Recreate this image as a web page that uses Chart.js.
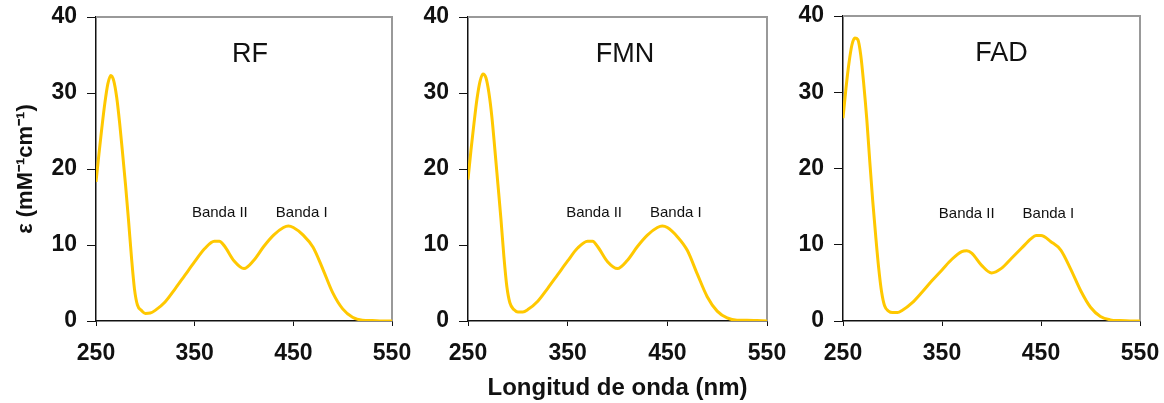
<!DOCTYPE html>
<html>
<head>
<meta charset="utf-8">
<script src="https://cdn.jsdelivr.net/npm/chart.js@4.4.1/dist/chart.umd.min.js"></script>
<style>
  body { margin: 0; background: #fff; }
  #wrap { position: relative; width: 1164px; height: 403px; }
  .panel { position: absolute; top: 0; }
</style>
</head>
<body>
<div id="wrap">
  <canvas id="c-rf" class="panel" width="420" height="403" style="left:0px"></canvas>
  <canvas id="c-fmn" class="panel" width="375" height="403" style="left:420px"></canvas>
  <canvas id="c-fad" class="panel" width="369" height="403" style="left:795px"></canvas>
</div>
<script>
// wavelength grid (nm) shared by the three spectra
var wavelengths = [250, 253, 256, 259, 262, 265, 268, 271, 274, 277, 280, 283, 286, 289, 292, 296,
    300, 305, 310, 320, 330, 340, 350, 360, 370, 375, 380, 390, 400, 410, 420, 430, 440, 445,
    450, 460, 470, 480, 490, 500, 510, 520, 530, 540, 550];

// molar absorptivity, mM-1 cm-1
var rfValues = [18.3, 22, 25.5, 28.7, 31.2, 32.3, 31.6, 29.4, 26, 22, 17.8, 13.2, 8.3, 4.2, 2.1, 1.4,
    1.0, 1.05, 1.4, 2.5, 4.2, 6.0, 7.8, 9.5, 10.5, 10.5, 9.9, 7.9, 6.9, 8.0, 9.8, 11.3, 12.3, 12.5,
    12.3, 11.3, 9.7, 6.8, 3.7, 1.6, 0.5, 0.1, 0.05, 0, 0];
var fmnValues = [18.6, 22.5, 26, 29.2, 31.5, 32.5, 32.0, 30, 26.8, 22.5, 18, 13.5, 8.5, 4.5, 2.4, 1.5,
    1.2, 1.2, 1.5, 2.6, 4.3, 6.1, 7.9, 9.6, 10.5, 10.5, 9.8, 7.8, 6.9, 8.0, 9.8, 11.3, 12.3, 12.5,
    12.3, 11.1, 9.3, 6.2, 3.2, 1.3, 0.4, 0.1, 0.1, 0.05, 0];
var fadValues = [26.6, 30.5, 33.8, 36.2, 37.1, 36.9, 34.8, 31, 26.5, 21, 15.8, 11.2, 7, 3.8, 2.0, 1.3,
    1.1, 1.1, 1.4, 2.4, 3.8, 5.3, 6.7, 8.1, 9.1, 9.2, 8.9, 7.3, 6.3, 6.9, 8.2, 9.5, 10.8, 11.2,
    11.2, 10.4, 9.3, 6.8, 4.0, 1.8, 0.6, 0.15, 0.05, 0, 0];

var xTicks = [250, 350, 450, 550];
var yTicks = [0, 10, 20, 30, 40];

var panelNames = ["RF", "FMN", "FAD"];
var bandNames = ["Banda II", "Banda I"];
// where the text labels sit, in data units [nm, value]
var namePos = [[406, 35.1], [407.5, 35.1], [410, 35.1]];
var bandPos = [
    [[375.5, 14.2], [458.5, 14.2]],
    [[376.5, 14.2], [458.5, 14.2]],
    [[375, 14.1], [457.5, 14.1]]
];

var FONT = "'Liberation Sans', Arial, sans-serif";
var LINE = 'rgb(255, 200, 0)';

/**
 * Draws the grey top/right frame and the text labels of a panel
 */
var panelDecor = {
    id: 'panelDecor',
    beforeDatasetsDraw(chart) {
        var a = chart.chartArea;
        var ctx = chart.ctx;
        ctx.save();
        ctx.strokeStyle = '#999';
        ctx.lineWidth = 2;
        ctx.beginPath();
        ctx.moveTo(a.left, a.top);
        ctx.lineTo(a.right, a.top);
        ctx.lineTo(a.right, a.bottom);
        ctx.stroke();
        ctx.restore();
    },
    afterDatasetsDraw(chart, args, opts) {
        var ctx = chart.ctx;
        var x = chart.scales.x, y = chart.scales.y;
        ctx.save();
        ctx.fillStyle = '#111';
        ctx.textAlign = 'center';
        ctx.textBaseline = 'middle';
        ctx.font = '27px ' + FONT;
        ctx.fillText(opts.name, x.getPixelForValue(opts.namePos[0]), y.getPixelForValue(opts.namePos[1]));
        ctx.font = '15px ' + FONT;
        for (var i = 0; i < bandNames.length; i++) {
            var p = opts.bandPos[i];
            ctx.fillText(bandNames[i], x.getPixelForValue(p[0]), y.getPixelForValue(p[1]));
        }
        ctx.restore();
    }
};

/**
 * Builds one spectrum panel
 * @param {*} id - canvas id
 * @param {*} values - the series values
 * @param {*} idx - panel index
 * @param {*} box - {left, right, top, bottom} of the plot area in canvas px
 */
function makePanel(id, values, idx, box) {
    var canvas = document.getElementById(id);
    var points = wavelengths.map((w, i) => ({ x: w, y: values[i] }));
    var tickFont = { family: FONT, size: 23, weight: 'bold' };

    new Chart(canvas, {
        type: 'line',
        data: {
            datasets: [{
                data: points,
                borderColor: LINE,
                borderWidth: 3,
                pointRadius: 0,
                cubicInterpolationMode: 'monotone',
                fill: false
            }]
        },
        options: {
            responsive: false,
            animation: false,
            events: [],
            layout: {
                padding: { left: 0, top: box.top, right: canvas.width - box.right, bottom: 0 }
            },
            plugins: {
                legend: { display: false },
                tooltip: { enabled: false },
                panelDecor: { name: panelNames[idx], namePos: namePos[idx], bandPos: bandPos[idx] }
            },
            scales: {
                x: {
                    type: 'linear',
                    min: 250,
                    max: 550,
                    afterBuildTicks: s => { s.ticks = xTicks.map(v => ({ value: v })); },
                    afterFit: s => {
                        s.height = canvas.height - box.bottom;
                        s.paddingLeft = 0;
                        s.paddingRight = 0;
                    },
                    ticks: { color: '#111', font: tickFont, padding: 14, maxRotation: 0 },
                    grid: { drawOnChartArea: false, drawTicks: true, tickLength: 5, color: '#111' },
                    border: { color: '#111', width: 1.5 },
                    title: {
                        display: idx === 1,
                        text: 'Longitud de onda (nm)',
                        color: '#111',
                        font: { family: FONT, size: 24, weight: 'bold' },
                        padding: { top: 0, bottom: 0 }
                    }
                },
                y: {
                    min: 0,
                    max: 40,
                    afterBuildTicks: s => { s.ticks = yTicks.map(v => ({ value: v })); },
                    afterFit: s => {
                        s.width = box.left;
                        s.paddingTop = 0;
                        s.paddingBottom = 0;
                    },
                    ticks: { color: '#111', font: tickFont, padding: 10 },
                    grid: { drawOnChartArea: false, drawTicks: true, tickLength: 9, color: '#111' },
                    border: { color: '#111', width: 1.5 },
                    title: {
                        display: idx === 0,
                        text: 'ε (mM⁻¹cm⁻¹)',
                        color: '#111',
                        font: { family: FONT, size: 22, weight: 'bold' },
                        padding: { top: 13, bottom: 0 }
                    }
                }
            }
        },
        plugins: [panelDecor]
    });
}

makePanel('c-rf', rfValues, 0, { left: 96, right: 392, top: 17, bottom: 321 });
makePanel('c-fmn', fmnValues, 1, { left: 48, right: 347, top: 17, bottom: 321 });
makePanel('c-fad', fadValues, 2, { left: 48, right: 345, top: 16, bottom: 321 });
</script>
</body>
</html>
